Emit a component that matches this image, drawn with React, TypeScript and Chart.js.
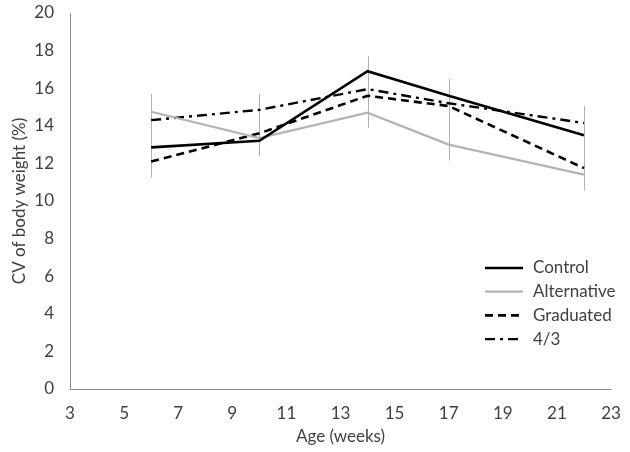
import React, { useEffect, useRef } from "react";
import { Chart, registerables } from "chart.js";

Chart.register(...registerables);

const weeks = [6, 10, 14, 17, 22];
const control = [12.85, 13.2, 16.9, 15.6, 13.5];
const alternative = [14.75, 13.35, 14.7, 13.0, 11.4];
const graduated = [12.1, 13.6, 15.6, 15.05, 11.75];
const fourThirds = [14.3, 14.85, 15.95, 15.2, 14.15];
const errLow = [11.25, 12.4, 13.9, 12.15, 10.55];
const errHigh = [15.7, 15.7, 17.7, 16.5, 15.05];

const seriesNames = ["Control", "Alternative", "Graduated", "4/3"];
const xTicks = { min: 3, max: 23, step: 2 };
const yTicks = { min: 0, max: 20, step: 2 };

const FONT = "Lato, 'Open Sans', sans-serif";
const TEXT = "#404040";

const errorBarPlugin = {
  id: "errorBars",
  beforeDatasetsDraw(chart: any) {
    const { ctx, scales } = chart;
    const x = scales.x;
    const y = scales.y;
    ctx.save();
    ctx.strokeStyle = "#b0b0b0";
    ctx.lineWidth = 1;
    weeks.forEach((w, i) => {
      const px = Math.round(x.getPixelForValue(w)) + 0.5;
      ctx.beginPath();
      ctx.moveTo(px, y.getPixelForValue(errLow[i]));
      ctx.lineTo(px, y.getPixelForValue(errHigh[i]));
      ctx.stroke();
    });
    ctx.restore();
  },
};

const legendPlugin = {
  id: "customLegend",
  afterDraw(chart: any) {
    const { ctx, chartArea } = chart;
    const x0 = chartArea.right - 126;
    const y0 = chartArea.bottom - 121;
    const rowH = 23.7;
    ctx.save();
    chart.data.datasets.forEach((ds: any, i: number) => {
      const yy = y0 + i * rowH;
      ctx.beginPath();
      ctx.setLineDash(ds.borderDash || []);
      ctx.strokeStyle = ds.borderColor;
      ctx.lineWidth = ds.borderWidth;
      ctx.moveTo(x0, yy);
      ctx.lineTo(x0 + 38, yy);
      ctx.stroke();
      ctx.setLineDash([]);
      ctx.fillStyle = TEXT;
      ctx.font = `17px ${FONT}`;
      ctx.textBaseline = "middle";
      ctx.textAlign = "left";
      ctx.fillText(ds.label, x0 + 48, yy);
    });
    ctx.restore();
  },
};

export default function App() {
  const ref = useRef<HTMLCanvasElement>(null);
  useEffect(() => {
    if (!ref.current) return;
    const mk = (vals: number[]) => weeks.map((w, i) => ({ x: w, y: vals[i] }));
    const chart = new Chart(ref.current, {
      type: "line",
      data: {
        datasets: [
          { label: seriesNames[0], data: mk(control), borderColor: "#000000", borderWidth: 2.6, pointRadius: 0, tension: 0 },
          { label: seriesNames[1], data: mk(alternative), borderColor: "#b3b3b3", borderWidth: 2.2, pointRadius: 0, tension: 0 },
          { label: seriesNames[2], data: mk(graduated), borderColor: "#000000", borderWidth: 2.6, borderDash: [8, 5], pointRadius: 0, tension: 0 },
          { label: seriesNames[3], data: mk(fourThirds), borderColor: "#000000", borderWidth: 2.4, borderDash: [10, 5, 3, 5], pointRadius: 0, tension: 0 },
        ],
      },
      options: {
        responsive: false,
        animation: false,
        layout: { padding: { top: 13, right: 19, left: 0, bottom: 0 } },
        plugins: { legend: { display: false }, tooltip: { enabled: false } },
        scales: {
          x: {
            type: "linear",
            min: xTicks.min,
            max: xTicks.max,
            afterFit: (s: any) => { s.height = 63; s.paddingLeft = 0; s.paddingRight = 0; },
            ticks: { stepSize: xTicks.step, color: TEXT, font: { family: FONT, size: 17 }, padding: 6, maxRotation: 0 },
            grid: { display: false },
            border: { display: true, color: "#8c8c8c", width: 1 },
            title: { display: true, text: "Age (weeks)", color: TEXT, font: { family: FONT, size: 17 }, padding: { top: 0, bottom: 5 } },
          },
          y: {
            type: "linear",
            min: yTicks.min,
            max: yTicks.max,
            afterFit: (s: any) => { s.width = 70; s.paddingTop = 0; s.paddingBottom = 0; },
            ticks: { stepSize: yTicks.step, color: TEXT, font: { family: FONT, size: 17 }, padding: 8 },
            grid: { display: false },
            border: { display: true, color: "#8c8c8c", width: 1 },
            title: { display: true, text: "CV of body weight (%)", color: TEXT, font: { family: FONT, size: 17 }, padding: { top: 9, bottom: 0 } },
          },
        },
      },
      plugins: [errorBarPlugin, legendPlugin],
    });
    return () => chart.destroy();
  }, []);
  return (
    <div style={{ position: "absolute", left: 0, top: 0, width: 630, height: 452, background: "#fff" }}>
      <canvas ref={ref} width={630} height={452} style={{ display: "block" }} />
    </div>
  );
}
